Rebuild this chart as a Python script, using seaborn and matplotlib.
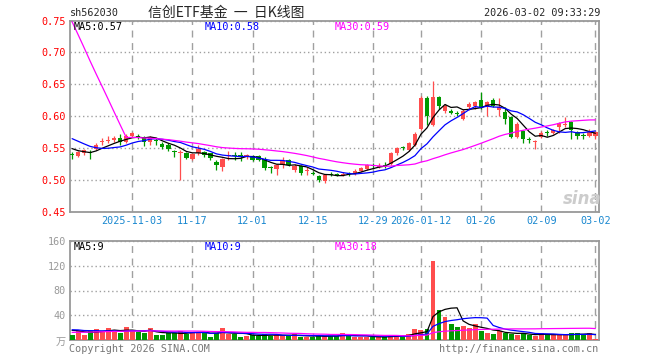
import numpy as np
import pandas as pd
import matplotlib
matplotlib.use("Agg")
import matplotlib.pyplot as plt
import seaborn as sns

# 交易日: 2025-10-20 ~ 2026-03-02, 去掉元旦和春节休市
holidays = ["2026-01-01", "2026-01-02", "2026-02-16", "2026-02-17",
            "2026-02-18", "2026-02-19", "2026-02-20", "2026-02-23"]
dates = pd.bdate_range("2025-10-20", "2026-03-02").drop(pd.to_datetime(holidays))

# 日K数据
open_ = [0.541, 0.538, 0.542, 0.545, 0.549, 0.560, 0.562, 0.5625, 0.566, 0.560,
         0.570, 0.569, 0.567, 0.560, 0.563, 0.557, 0.556, 0.546, 0.543, 0.542,
         0.534, 0.542, 0.544, 0.542, 0.529, 0.521, 0.538, 0.539, 0.539, 0.536,
         0.538, 0.538, 0.534, 0.520, 0.517, 0.524, 0.532, 0.516, 0.522, 0.515,
         0.511, 0.506, 0.499, 0.510, 0.510, 0.509, 0.511, 0.510, 0.515, 0.517,
         0.523, 0.521, 0.524, 0.525, 0.542, 0.551, 0.548, 0.555, 0.581, 0.629,
         0.587, 0.630, 0.609, 0.608, 0.605, 0.596, 0.615, 0.617, 0.625, 0.615,
         0.625, 0.6105, 0.607, 0.599, 0.568, 0.577, 0.564, 0.560, 0.568, 0.575,
         0.574, 0.583, 0.586, 0.591, 0.5755, 0.571, 0.569, 0.569]
high = [0.544, 0.546, 0.549, 0.547, 0.558, 0.566, 0.569, 0.569, 0.573, 0.572,
        0.576, 0.573, 0.569, 0.569, 0.566, 0.560, 0.558, 0.547, 0.547, 0.544,
        0.543, 0.555, 0.546, 0.543, 0.532, 0.535, 0.546, 0.545, 0.545, 0.541,
        0.540, 0.539, 0.536, 0.523, 0.526, 0.536, 0.534, 0.526, 0.524, 0.521,
        0.514, 0.508, 0.510, 0.513, 0.512, 0.513, 0.513, 0.517, 0.521, 0.525,
        0.527, 0.527, 0.528, 0.544, 0.552, 0.554, 0.560, 0.575, 0.632, 0.632,
        0.656, 0.632, 0.619, 0.611, 0.608, 0.612, 0.622, 0.624, 0.638, 0.624,
        0.628, 0.628, 0.615, 0.600, 0.592, 0.579, 0.568, 0.563, 0.577, 0.578,
        0.581, 0.591, 0.599, 0.593, 0.577, 0.574, 0.581, 0.577]
low = [0.533, 0.536, 0.539, 0.533, 0.547, 0.556, 0.558, 0.560, 0.555, 0.558,
       0.568, 0.565, 0.553, 0.556, 0.555, 0.549, 0.546, 0.536, 0.500, 0.533,
       0.532, 0.540, 0.537, 0.532, 0.516, 0.514, 0.532, 0.532, 0.531, 0.534,
       0.530, 0.530, 0.516, 0.511, 0.508, 0.520, 0.522, 0.513, 0.508, 0.509,
       0.508, 0.497, 0.496, 0.507, 0.506, 0.506, 0.507, 0.508, 0.513, 0.516,
       0.519, 0.519, 0.520, 0.524, 0.540, 0.547, 0.546, 0.553, 0.579, 0.586,
       0.585, 0.612, 0.606, 0.603, 0.600, 0.594, 0.610, 0.612, 0.611, 0.601,
       0.615, 0.600, 0.588, 0.566, 0.566, 0.558, 0.558, 0.549, 0.566, 0.570,
       0.572, 0.574, 0.584, 0.565, 0.565, 0.565, 0.567, 0.565]
close = [0.540, 0.544, 0.547, 0.543, 0.556, 0.561, 0.563, 0.566, 0.560, 0.570,
         0.574, 0.568, 0.560, 0.567, 0.562, 0.552, 0.549, 0.545, 0.545, 0.535,
         0.541, 0.549, 0.539, 0.535, 0.524, 0.533, 0.539, 0.538, 0.538, 0.539,
         0.532, 0.532, 0.519, 0.519, 0.524, 0.531, 0.524, 0.523, 0.511, 0.516,
         0.510, 0.500, 0.509, 0.509, 0.509, 0.510, 0.510, 0.515, 0.520, 0.524,
         0.522, 0.522, 0.523, 0.543, 0.551, 0.550, 0.558, 0.573, 0.629, 0.600,
         0.631, 0.617, 0.616, 0.606, 0.604, 0.609, 0.620, 0.622, 0.6135, 0.622,
         0.617, 0.6146, 0.596, 0.568, 0.588, 0.565, 0.563, 0.561, 0.574, 0.574,
         0.579, 0.590, 0.588, 0.578, 0.570, 0.570, 0.575, 0.575]
# 成交量 (万)
volume = [8.5, 15.5, 8.5, 15, 18, 14, 20, 15, 11, 21,
          15, 14, 11, 20, 8.5, 8.5, 12, 11, 15, 10,
          14, 14, 13, 6, 11, 20, 10, 10, 6, 7.5,
          8.5, 7.5, 10, 7.5, 8.5, 7, 7, 10, 6, 6,
          6, 7, 7, 7, 7, 12, 7, 6, 6, 6,
          5, 5, 5, 8.5, 8.5, 7, 10, 18, 16.5, 18,
          128, 48, 38, 26, 21, 23, 20, 25.6, 15, 12,
          10, 15, 12, 10, 8.5, 11, 8.5, 7.5, 12, 8.5,
          9, 8, 8, 12, 11, 10, 11, 2]

# 窗口之前的收盘价/成交量, 只用来让均线在左端接上 (按图中均线起点估计)
warm_close = [1.15, 1.16, 1.17, 1.16, 1.15, 1.16, 1.17, 1.16, 1.16,
              0.570, 0.575, 0.580, 0.578, 0.582, 0.576, 0.574, 0.579, 0.581, 0.578, 0.575,
              0.585, 0.588, 0.582, 0.577, 0.572, 0.560, 0.555, 0.550, 0.543]
warm_vol = [7.5, 8.2, 8.8, 7.9, 8.4, 7.6, 8.1, 8.5, 7.8,
            12.0, 13.1, 12.4, 11.8, 12.9, 13.4, 12.2, 12.7, 11.9, 12.6, 13.0,
            17.5, 18.6, 16.9, 18.2, 17.4, 19.0, 16.8, 18.3, 17.6]

tick_dates = ["2025-11-03", "2025-11-17", "2025-12-01", "2025-12-15", "2025-12-29",
              "2026-01-12", "2026-01-26", "2026-02-09", "2026-03-02"]
tick_labels = ["2025-11-03", "11-17", "12-01", "12-15", "12-29",
               "2026-01-12", "01-26", "02-09", "03-02"]

df = pd.DataFrame({"date": dates, "open": open_, "high": high, "low": low,
                   "close": close, "volume": volume})
df["x"] = np.arange(len(df))
n_warm = len(warm_close)
c_all = pd.Series(warm_close + close)
v_all = pd.Series(warm_vol + volume)
for w in (5, 10, 30):
    df[f"ma{w}"] = c_all.rolling(w).mean().iloc[n_warm:].values
    df[f"vma{w}"] = v_all.rolling(w).mean().iloc[n_warm:].values

RED, GREEN = "#ff4d4d", "#009900"
df["color"] = np.where(df["close"] >= df["open"], RED, GREEN)
tick_idx = [dates.get_loc(pd.Timestamp(d)) for d in tick_dates]

sns.set_style("white")
plt.rcParams["font.family"] = ["DejaVu Sans Mono", "Noto Sans CJK SC"]

W, H = 660, 360
fig = plt.figure(figsize=(6.6, 3.6), dpi=100)
ax = fig.add_axes([70 / W, 1 - 212.3 / H, 529 / W, 191.8 / H])
axv = fig.add_axes([70 / W, 1 - 340.3 / H, 529 / W, 99.6 / H])

# K线
ax.vlines(df["x"], df["low"], df["high"], colors=df["color"], lw=0.9, zorder=3)
body = (df["close"] - df["open"]).abs().clip(lower=0.0016)
ax.bar(df["x"], body, bottom=df[["open", "close"]].min(axis=1), width=0.72,
       color=df["color"], lw=0, zorder=3)
for col, c in (("ma5", "black"), ("ma10", "#0000ff"), ("ma30", "#ff00ff")):
    sns.lineplot(data=df, x="x", y=col, ax=ax, color=c, lw=0.9, zorder=4)

# 成交量
axv.bar(df["x"], df["volume"], width=0.82, color=df["color"], lw=0, zorder=3)
for col, c in (("vma5", "black"), ("vma10", "#0000ff"), ("vma30", "#ff00ff")):
    sns.lineplot(data=df, x="x", y=col, ax=axv, color=c, lw=0.9, zorder=4)

for a in (ax, axv):
    a.set_xlim(-0.35, 87.6)
    a.set_xlabel("")
    a.set_ylabel("")
    a.set_xticks(tick_idx)
    a.xaxis.grid(True, linestyle=(0, (5, 4)), color="#a0a0a0", lw=1)
    a.yaxis.grid(True, linestyle=(0, (1, 2)), color="#a0a0a0", lw=1)
    a.tick_params(length=0, pad=3)
    for s in a.spines.values():
        s.set_color("#999999")
        s.set_linewidth(1.3)

ax.set_ylim(0.45, 0.75)
ax.set_yticks([0.45, 0.50, 0.55, 0.60, 0.65, 0.70, 0.75])
ax.set_yticklabels([f"{v:.2f}" for v in ax.get_yticks()], color="#ff0000", fontsize=7.3)
ax.set_xticklabels(tick_labels, color="#1a88d0", fontsize=7.3)

axv.set_ylim(0, 160)
axv.set_yticks([40, 80, 120, 160])
axv.set_yticklabels(["40", "80", "120", "160"], color="#999999", fontsize=7.3)
axv.set_xticklabels([])


def px(x, y, s, size=7.3, **kw):
    fig.text(x / W, 1 - y / H, s, va="center", fontsize=size, **kw)


px(70, 13, "sh562030")
px(226, 13, "信创ETF基金  一  日K线图", ha="center", size=10,
   family=["Noto Sans CJK SC", "DejaVu Sans"])
px(600, 13, "2026-03-02 09:33:29", ha="right")

px(74, 27, "MA5:0.57", color="black")
px(205, 27, "MA10:0.58", color="#0000ff")
px(335, 27, "MA30:0.59", color="#ff00ff")

px(74, 247, "MA5:9", color="black")
px(205, 247, "MA10:9", color="#0000ff")
px(335, 247, "MA30:18", color="#ff00ff")

px(66, 342, "万", ha="right", color="#999999", family=["Noto Sans CJK SC"])
px(69, 349, "Copyright 2026 SINA.COM", color="#777777")
px(598, 349, "http://finance.sina.com.cn", ha="right", color="#777777")

fig.text(582 / W, 1 - 199 / H, "sina", ha="center", va="center", fontsize=12,
         fontweight="bold", style="italic", color="#cccccc", family="DejaVu Sans")

fig.savefig("out.png", dpi=100)
plt.close(fig)
